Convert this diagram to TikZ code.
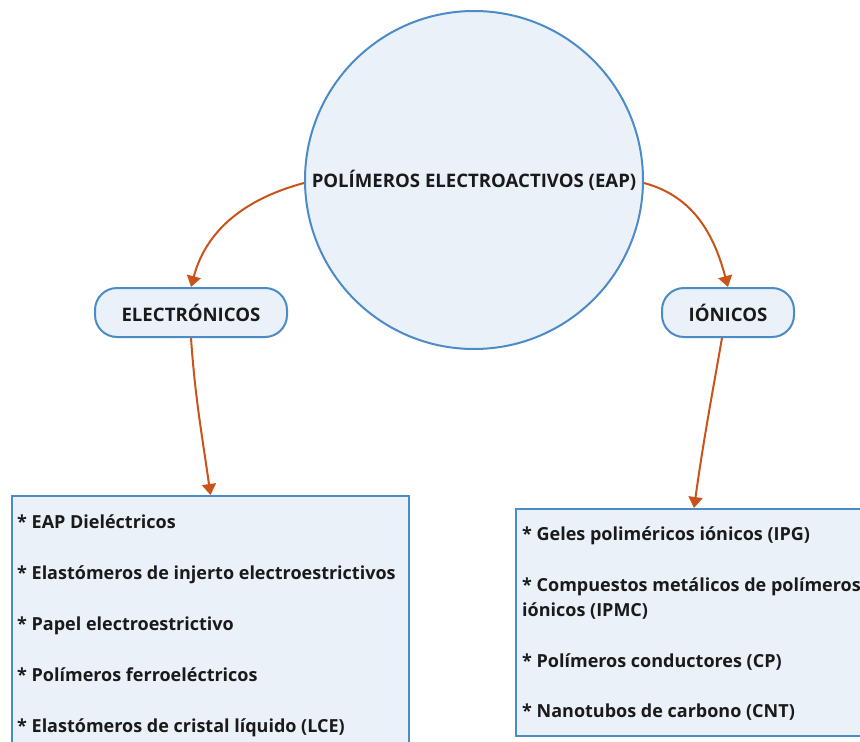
\documentclass[tikz,border=0pt]{standalone}
\usepackage{fontspec}
\setmainfont{Open Sans}
\usetikzlibrary{arrows.meta}
\definecolor{nodefill}{HTML}{EAF1F9}
\definecolor{nodeline}{HTML}{4B8BC8}
\definecolor{arrowc}{HTML}{C9531A}
\definecolor{txt}{HTML}{1A1A1A}
\begin{document}
\begin{tikzpicture}[x=1pt,y=-1pt,
  font=\fontsize{18.6}{25.5}\selectfont\bfseries, text=txt,
  conn/.style={draw=arrowc, line width=2pt, -{Triangle[width=14pt,length=11pt]}},
  bubble/.style={draw=nodeline, fill=nodefill, line width=2pt},
  pill/.style={bubble, rectangle, rounded corners=22pt, minimum width=192pt, minimum height=49pt, inner sep=0pt},
  listbox/.style={bubble, rectangle, anchor=north west, inner sep=0pt},
  listtext/.style={anchor=north west, align=left, inner sep=0pt, font=\fontsize{18}{25.5}\selectfont\bfseries}]
\useasboundingbox (0,0) rectangle (860,742);
\clip (0,0) rectangle (860,742);
\fill[white] (0,0) rectangle (860,742);
\node[bubble, circle, minimum size=338pt, inner sep=0pt] (eap) at (474,180) {\raisebox{-2pt}{POLÍMEROS ELECTROACTIVOS (EAP)}};
\node[pill] (elec) at (191,312.5) {ELECTRÓNICOS};
\node[pill, minimum width=132pt] (ion) at (728,312.5) {IÓNICOS};
\node[listbox, minimum width=397pt, minimum height=280pt] (lbox) at (11,495) {};
\node[listbox, minimum width=356pt, minimum height=227pt] (rbox) at (515,508) {};
\node[listtext] (ltext) at (17,514.5) {* EAP Dieléctricos\\[25.5pt]
* Elastómeros de injerto electroestrictivos\\[25.5pt]
* Papel electroestrictivo\\[25.5pt]
* Polímeros ferroeléctricos\\[25.5pt]
* Elastómeros de cristal líquido (LCE)};
\node[listtext] (rtext) at (522,527) {* Geles poliméricos iónicos (IPG)\\[25pt]
* Compuestos metálicos de polímeros\\
iónicos (IPMC)\\[25pt]
* Polímeros conductores (CP)\\[25pt]
* Nanotubos de carbono (CNT)};
\draw[conn] ([yshift=-3pt]eap.west) to[out=195,in=75] (elec.north);
\draw[conn] ([yshift=-3pt]eap.east) to[out=-15,in=105] (ion.north);
\draw[conn] (elec.south) to[out=-86,in=98] (lbox.north);
\draw[conn] ([xshift=-6pt]ion.south) to[out=-100,in=82] (rbox.north);
\end{tikzpicture}
\end{document}
